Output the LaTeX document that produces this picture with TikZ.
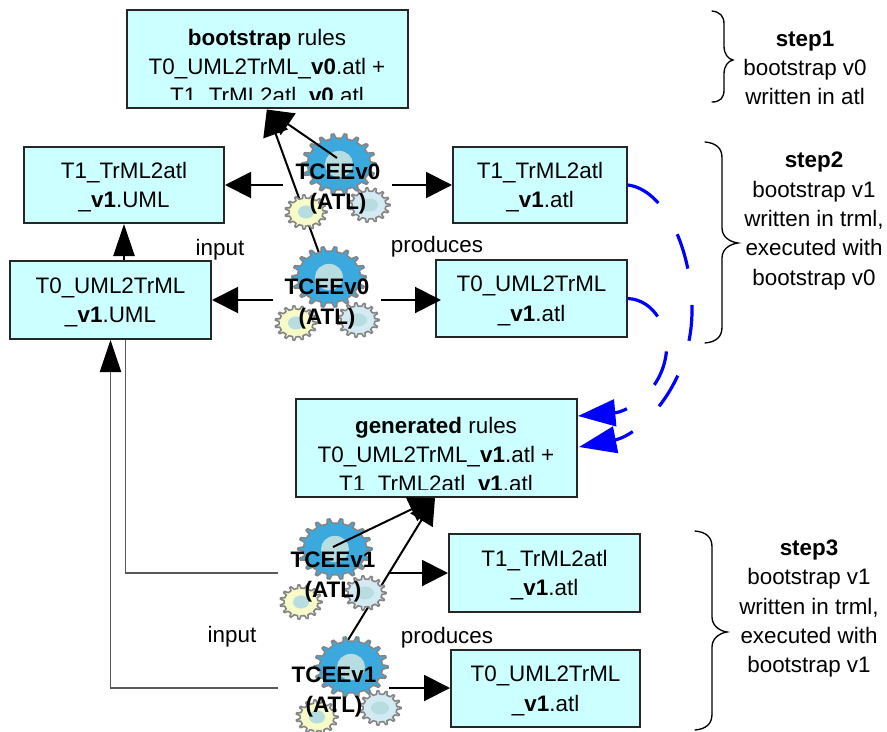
\documentclass[tikz,border=0pt]{standalone}
\usepackage{fontspec}
\setmainfont{Liberation Sans}
\usetikzlibrary{arrows.meta,calc}
\definecolor{boxfill}{HTML}{CCFFFF}
\definecolor{gearblue}{HTML}{3BA9DE}
\definecolor{gearcore}{HTML}{B8DDE0}
\definecolor{gearyellow}{HTML}{F7FBC8}
\definecolor{gearpale}{HTML}{D4EAF3}
\definecolor{gearedge}{HTML}{858585}
\newcommand{\lift}{\rule{0pt}{15.5pt}}
\newcommand{\cogwheel}[7]{% centre, outer r, inner r, teeth step, fill, core rx, core ry
  \begin{scope}[shift={(#1)},yscale=0.82]
    \draw[draw=gearedge,line width=1.2pt,fill=#5,line join=round]
      (-0.22*#4:#3)
      \foreach \a in {0,#4,...,359.9} {
        -- (\a-0.24*#4:#3) -- (\a-0.1*#4:#2) -- (\a+0.1*#4:#2) -- (\a+0.24*#4:#3)
      } -- cycle;
    \fill[gearcore] (0,0) ellipse [x radius=#6,y radius=#7];
  \end{scope}}
\tikzset{
  box/.style={draw=black!85,line width=1.5pt,fill=boxfill,inner sep=0pt,align=center,
    font=\fontsize{16.8}{22}\selectfont},
  boxtext/.style={inner sep=0pt,align=center,font=\fontsize{16.8}{22}\selectfont},
  sidetext/.style={inner sep=0pt,align=center,font=\fontsize{16.8}{22}\selectfont},
  plainlabel/.style={inner sep=0pt,font=\fontsize{16.8}{20}\selectfont},
  enginetext/.style={inner sep=0pt,align=center,font=\fontsize{16.8}{23.2}\selectfont\bfseries},
  flow/.style={black,line width=1.5pt,-{Triangle[length=19.5pt,width=19.5pt]}},
  slimflow/.style={black,line width=1pt,-{Triangle[length=24pt,width=16pt]}},
  thinflow/.style={black!65,line width=0.8pt},
  blueflow/.style={blue,line width=2.4pt,dash pattern=on 27pt off 27.5pt,
    -{Triangle[length=28pt,width=20pt,fill=blue]}},
  bracket/.style={black,line width=1pt,line cap=round}
}
\begin{document}
\begin{tikzpicture}[x=0.75pt,y=-0.75pt]
\useasboundingbox (0,0) rectangle (887,731);
% boxes
\node[box,minimum width=211pt,minimum height=73.5pt] (boot) at (267.5,59.5) {};
\begin{scope}
  \clip (129,12) rectangle (406,100);
  \node[boxtext] (boottext) at (267,68.5) {\textbf{bootstrap} rules\\T0\_UML2TrML\_\textbf{v0}.atl +\\T1\_TrML2atl\_\textbf{v0}.atl};
\end{scope}
\node[box,minimum width=150pt,minimum height=57pt] (t1l) at (124,185) {\lift T1\_TrML2atl\\\_\textbf{v1}.UML};
\node[box,minimum width=130.5pt,minimum height=57pt] (t1r) at (540,185) {\lift T1\_TrML2atl\\\_\textbf{v1}.atl};
\node[box,minimum width=150.75pt,minimum height=58.5pt] (t0l) at (110.5,300) {\lift T0\_UML2TrML\\\_\textbf{v1}.UML};
\node[box,minimum width=143.25pt,minimum height=57.75pt] (t0r) at (531.5,298.5) {\lift T0\_UML2TrML\\\_\textbf{v1}.atl};
\node[box,minimum width=210.75pt,minimum height=73.5pt] (gen) at (436.5,448) {};
\begin{scope}
  \clip (298,401) rectangle (575,489);
  \node[boxtext] (gentext) at (436,456.5) {\textbf{generated} rules\\T0\_UML2TrML\_\textbf{v1}.atl +\\T1\_TrML2atl\_\textbf{v1}.atl};
\end{scope}
\node[box,minimum width=143.25pt,minimum height=58.5pt] (t1low) at (544.5,573) {\lift T1\_TrML2atl\\\_\textbf{v1}.atl};
\node[box,minimum width=141.75pt,minimum height=57.75pt] (t0low) at (545.5,688.5) {\lift T0\_UML2TrML\\\_\textbf{v1}.atl};
% connector ends
\coordinate (gA) at (339,164);
\coordinate (gB) at (329,277);
\coordinate (gC) at (335,549);
\coordinate (gD) at (351,667);
\coordinate (topTip) at ($(boot.south west)+(141,0)$);
\coordinate (genTip) at ($(gen.south west)+(140,0)$);
\coordinate (gAstart) at (337,158);
\coordinate (gBstart) at (319,253);
\coordinate (gCstart) at (333,547);
\coordinate (gDstart) at (348,640);
\coordinate (gAl) at (283,185);
\coordinate (gAr) at (392,185);
\coordinate (gBl) at (273,300);
\coordinate (gBr) at (381,300);
\coordinate (gCl) at (278,573);
\coordinate (gCr) at (388,573);
\coordinate (gDl) at (278,688);
\coordinate (gDr) at (389,688);
% connectors under the gears
\draw[flow] (gBstart) -- (topTip);
\draw[flow] (gDstart) -- (genTip);
\draw[slimflow] (t0l.north -| t1l.south) -- (t1l.south);
\draw[flow] (gAl) -- (t1l.east |- gAl);
\draw[flow] (gAr) -- (t1r.west |- gAr);
\draw[flow] (gBl) -- (t0l.east |- gBl);
\draw[flow] (gBr) -- ($(t0r.west |- gBr)+(6,0)$);
\draw[thinflow] (gCl) -| ($(t0l.south)+(15,0)$);
\draw[thinflow,-{Triangle[length=24pt,width=16pt,black,fill=black]}] (gDl) -| (t0l.south);
\draw[flow] (gCr) -- (t1low.west |- gCr);
\draw[flow] (gDr) -- (t0low.west |- gDr);
% gears
\cogwheel{gA}{37}{31.5}{20}{gearblue}{14}{16}
\cogwheel{$(gA)+(-33,48)$}{21}{17}{24}{gearyellow}{8}{8}
\cogwheel{$(gA)+(30,41)$}{21}{17}{24}{gearpale}{9}{8}
\cogwheel{gB}{37}{31.5}{20}{gearblue}{14}{16}
\cogwheel{$(gB)+(-33,46)$}{21}{17}{24}{gearyellow}{8}{8}
\cogwheel{$(gB)+(29,43)$}{21}{17}{24}{gearpale}{9}{8}
\cogwheel{gC}{37}{31.5}{20}{gearblue}{14}{16}
\cogwheel{$(gC)+(-34,53)$}{21}{17}{24}{gearyellow}{8}{8}
\cogwheel{$(gC)+(30,44)$}{21}{17}{24}{gearpale}{9}{8}
\cogwheel{gD}{37}{31.5}{20}{gearblue}{14}{16}
\cogwheel{$(gD)+(-34,50)$}{21}{17}{24}{gearyellow}{8}{8}
\cogwheel{$(gD)+(29,41)$}{21}{17}{24}{gearpale}{9}{8}
% connectors over the gears
\draw[flow] (gAstart) -- (topTip);
\draw[flow] (gCstart) -- (genTip);
% engine labels
\node[enginetext] (eA) at (338,189) {TCEEv0\\(ATL)};
\node[enginetext] (eB) at (327,304) {TCEEv0\\(ATL)};
\node[enginetext] (eC) at (333,577) {TCEEv1\\(ATL)};
\node[enginetext] (eD) at (334,692) {TCEEv1\\(ATL)};
% blue dependency arrows
\draw[blueflow] (t1r.east) .. controls (665,190) and (692,250) .. (692,310) .. controls (692,385) and (640,435) .. ($(gen.east)+(1,-1)$);
\draw[blueflow] (t0r.east) .. controls (655,300) and (670,330) .. (666,355) .. controls (660,395) and (625,412) .. ($(gen.north east)+(0,18)$);
% labels
\node[plainlabel] (inA) at (220,250) {input};
\node[plainlabel] (prA) at (437,247) {produces};
\node[plainlabel] (inB) at (232,637) {input};
\node[plainlabel] (prB) at (447,638) {produces};
% braces
\draw[bracket] (712,11) .. controls (720,12) and (724,16) .. (724,24) -- (724,46) .. controls (724,54) and (728,59) .. (733,60) .. controls (728,61) and (724,66) .. (724,74) -- (724,90) .. controls (724,98) and (720,102) .. (712,102);
\draw[bracket] (705,142) .. controls (716,143) and (722,148) .. (722,158) -- (722,228) .. controls (722,237) and (730,242) .. (738,243) .. controls (730,244) and (722,249) .. (722,258) -- (722,327) .. controls (722,337) and (716,342) .. (705,343);
\draw[bracket] (695,531) .. controls (706,532) and (712,537) .. (712,547) -- (712,617) .. controls (712,626) and (720,631) .. (727,632) .. controls (720,633) and (712,638) .. (712,647) -- (712,714) .. controls (712,724) and (706,729) .. (695,730);
% step texts
\node[sidetext] (stepA) at (805,68) {\textbf{step1}\\bootstrap v0\\written in atl};
\node[sidetext] (stepB) at (814,221) {\textbf{step2}\\bootstrap v1\\written in trml,\\executed with\\bootstrap v0};
\node[sidetext] (stepC) at (809,608.5) {\textbf{step3}\\bootstrap v1\\written in trml,\\executed with\\bootstrap v1};
\end{tikzpicture}
\end{document}
